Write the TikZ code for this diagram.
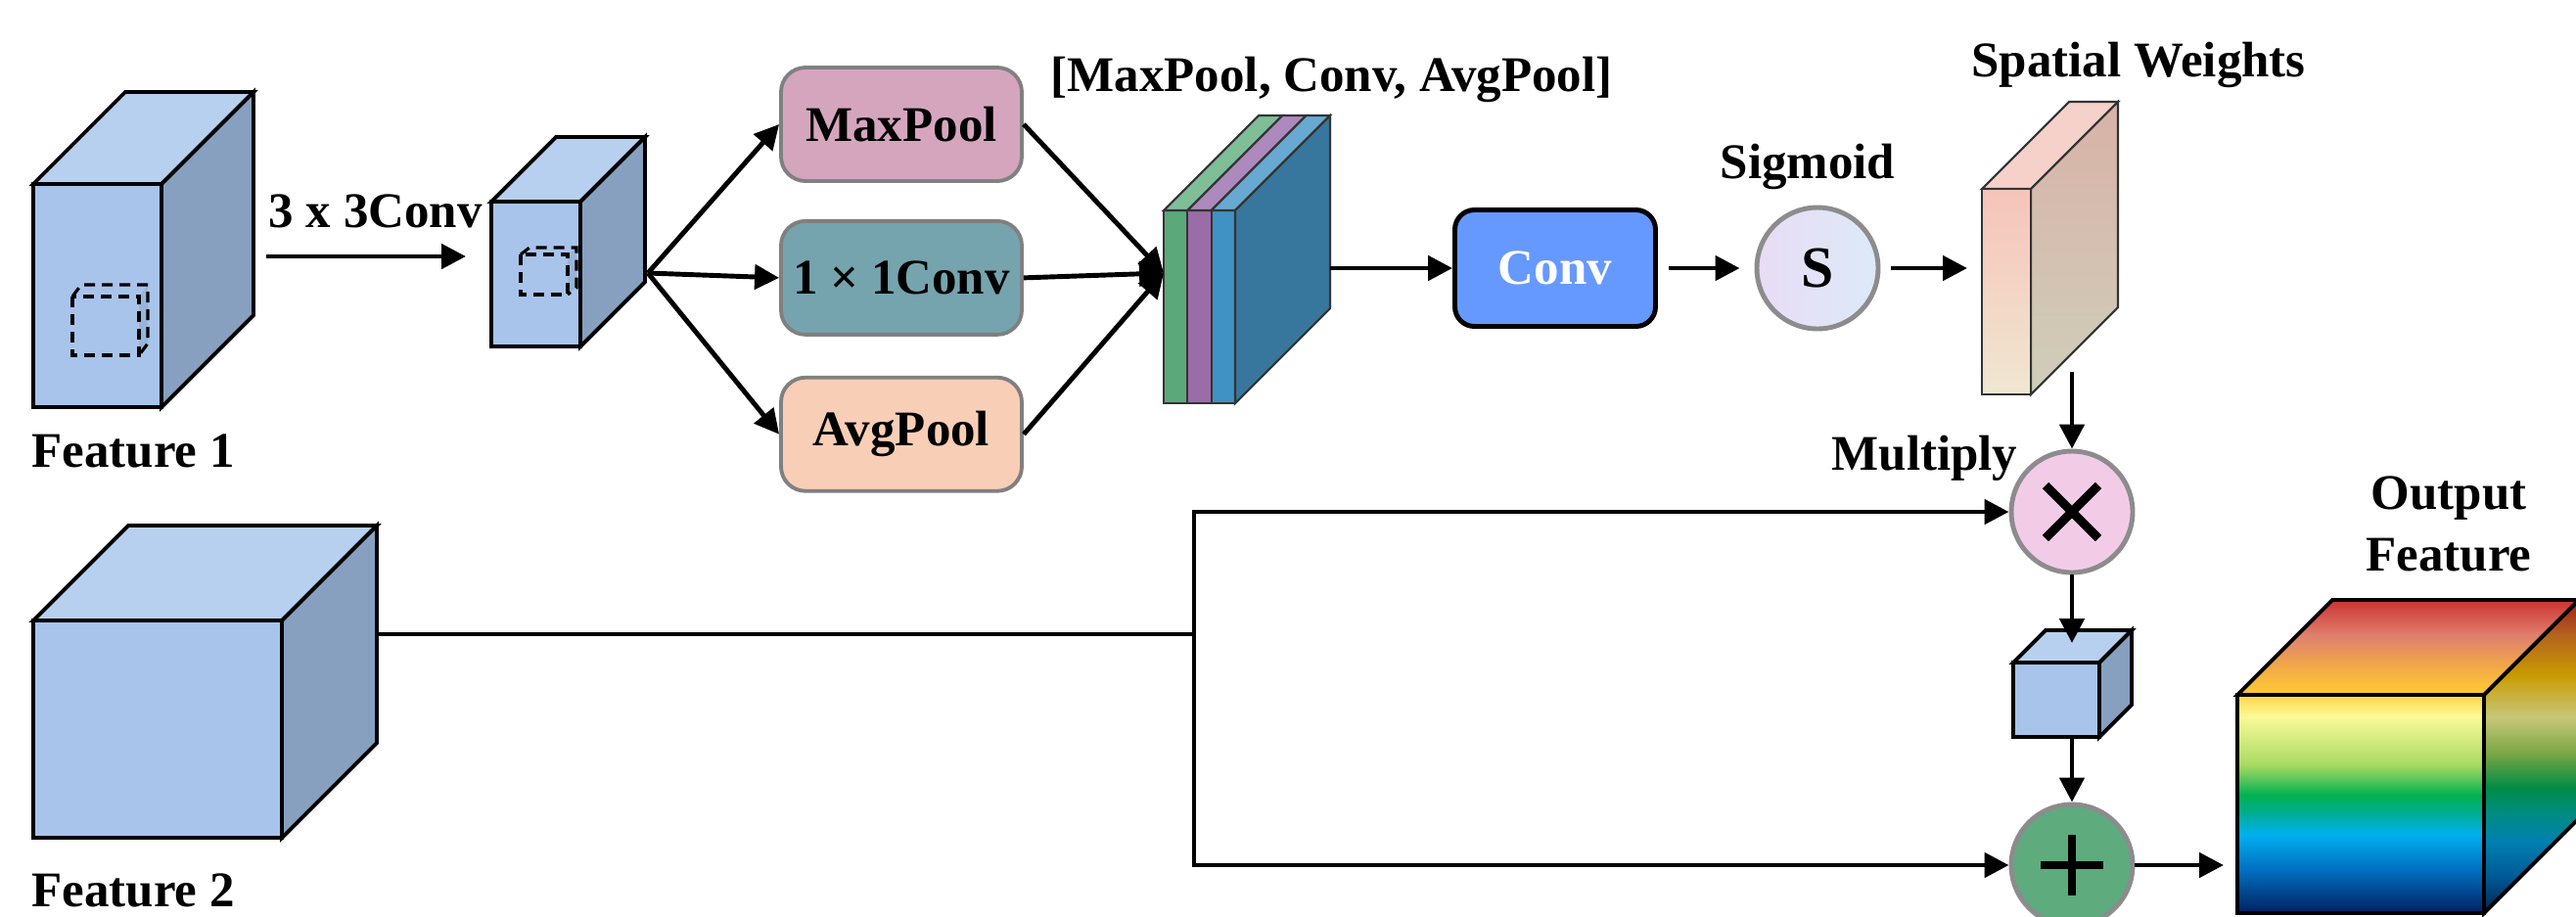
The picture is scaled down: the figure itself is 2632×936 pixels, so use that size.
\documentclass[tikz,border=0pt]{standalone}
\usepackage{fontspec}
\setmainfont{Liberation Serif}
\usetikzlibrary{arrows.meta,positioning}

\definecolor{cubefront}{HTML}{A8C4EB}
\definecolor{cubetop}{HTML}{B7D0EF}
\definecolor{cubeside}{HTML}{87A0C0}
\definecolor{maxpc}{HTML}{D5A5BE}
\definecolor{onec}{HTML}{75A4AE}
\definecolor{avgc}{HTML}{F9CEB6}
\definecolor{boxline}{HTML}{808080}
\definecolor{grnfront}{HTML}{5BA97A}
\definecolor{grntop}{HTML}{7FBE97}
\definecolor{purfront}{HTML}{9A6DA9}
\definecolor{purtop}{HTML}{AD8ABD}
\definecolor{blufront}{HTML}{4192C4}
\definecolor{blutop}{HTML}{68A9D1}
\definecolor{stkside}{HTML}{37779E}
\definecolor{convc}{HTML}{6699FF}
\definecolor{sigleft}{HTML}{E8DCF5}
\definecolor{sigright}{HTML}{DCEAF8}
\definecolor{ringgray}{HTML}{8C8C8C}
\definecolor{mulc}{HTML}{F2CCE6}
\definecolor{addc}{HTML}{5EAB7E}
\definecolor{swfronttop}{HTML}{F6C4BA}
\definecolor{swfrontbot}{HTML}{EFE7D1}
\definecolor{swsidetop}{HTML}{D8B2A7}
\definecolor{swsidebot}{HTML}{CFCEBA}
\definecolor{swtop}{HTML}{F6D1C9}
\definecolor{plateline}{HTML}{333333}
% rainbow block
\definecolor{rbgold}{HTML}{FFD54A}
\definecolor{rbpale}{HTML}{FAFA98}
\definecolor{rblime}{HTML}{A8DA62}
\definecolor{rbgreen}{HTML}{00B050}
\definecolor{rbteal}{HTML}{00AE9A}
\definecolor{rbcyan}{HTML}{00B0F0}
\definecolor{rbblue}{HTML}{0070C0}
\definecolor{rbnavy}{HTML}{002060}
\definecolor{rbred}{HTML}{CC3333}
\definecolor{rbsalmon}{HTML}{E0806E}
\definecolor{rborange}{HTML}{F0A848}
\definecolor{rbtopfront}{HTML}{FFCC33}
\definecolor{rsdred}{HTML}{9E1F1F}
\definecolor{rsbrown}{HTML}{B5651D}
\definecolor{rsgold}{HTML}{C89B00}
\definecolor{rskhaki}{HTML}{C8C87A}
\definecolor{rsolive}{HTML}{7AA645}
\definecolor{rsgreen}{HTML}{008C45}
\definecolor{rsteal}{HTML}{008C80}
\definecolor{rsblue}{HTML}{0080B0}
\definecolor{rsdblue}{HTML}{005A98}
\definecolor{rsnavy}{HTML}{002050}

\pgfdeclareverticalshading{rainfront}{100bp}{color(0bp)=(rbnavy); color(25bp)=(rbnavy);
  color(35bp)=(rbblue); color(43bp)=(rbcyan); color(47.5bp)=(rbteal); color(52bp)=(rbgreen);
  color(59bp)=(rblime); color(70bp)=(rbpale); color(75bp)=(rbgold); color(100bp)=(rbgold)}
\pgfdeclareverticalshading{rainside}{100bp}{color(0bp)=(rsnavy); color(25bp)=(rsnavy);
  color(31bp)=(rsdblue); color(36.5bp)=(rsblue); color(41bp)=(rsteal); color(45bp)=(rsgreen);
  color(50.5bp)=(rsolive); color(56.3bp)=(rskhaki); color(63bp)=(rsgold); color(69.2bp)=(rsbrown);
  color(75bp)=(rsdred); color(100bp)=(rsdred)}
\pgfdeclareverticalshading{raintop}{100bp}{color(0bp)=(rbtopfront); color(25bp)=(rbtopfront);
  color(40.5bp)=(rborange); color(56bp)=(rbsalmon); color(75bp)=(rbred); color(100bp)=(rbred)}

\tikzset{
  lbl/.style={font=\fontsize{14.5}{18}\selectfont\bfseries, inner sep=0pt},
  arr/.style={line width=1.4pt, -{Triangle[length=2.5mm,width=2.5mm]}},
  gap/.style={shorten <=1.1mm, shorten >=1.5mm},
  wire/.style={line width=1.4pt},
  cubeline/.style={draw=black, line width=1.1pt},
  cubeface/.style={cubeline, inner sep=0pt, outer sep=0pt},
  kernel/.style={line width=0.9pt, dash pattern=on 1.1mm off 0.7mm},
  plate/.style={draw=plateline, line width=0.6pt},
  pool/.style={draw=boxline, line width=1.1pt, rounded corners=2.5mm, minimum width=24.6mm,
    minimum height=11.6mm, inner sep=0pt, font=\fontsize{14.5}{17}\selectfont\bfseries},
  convbox/.style={draw=black, line width=1.4pt, rounded corners=2mm, fill=convc, text=white,
    minimum width=20.5mm, minimum height=11.9mm, font=\fontsize{14.5}{17}\selectfont\bfseries},
  opcirc/.style={circle, draw=ringgray, line width=1.4pt, minimum size=12.4mm, inner sep=0pt},
}

% name, x, y of front top-left, width, height, depth
\newcommand{\featcube}[6]{%
  \node[cubeface, fill=cubefront, anchor=north west,
        minimum width=#4*0.1mm, minimum height=#5*0.1mm] (#1) at (#2,#3) {};
  \filldraw[cubeline, fill=cubetop] (#1.north west) -- ++(#6,-#6) -- ++(#4,0) -- (#1.north east) -- cycle;
  \filldraw[cubeline, fill=cubeside] (#1.north east) -- ++(#6,-#6) -- ++(0,#5) -- (#1.south east) -- cycle;
}
% x, y, width, height, shift right, shift up
\newcommand{\dashcube}[6]{%
  \fill[cubeside!45!cubefront] (#1+#3,#2) -- ++(#5,-#6) -- ++(0,#4) -- ++(-#5,#6) -- cycle;
  \draw[kernel] (#1,#2) rectangle ++(#3,#4);
  \draw[kernel] (#1,#2) -- ++(#5,-#6) -- ++(#3,0) -- ++(0,#4) -- ++(-#5,#6);
}

\begin{document}
\begin{tikzpicture}[x=0.1mm, y=-0.1mm]
\useasboundingbox (0,0) rectangle (2632,936);
\clip (0,0) rectangle (2632,936);

% Feature 1
\featcube{f1}{34}{188}{131}{228}{94}
\dashcube{74}{303}{68}{60}{9}{12}
\node[lbl, anchor=base west] (f1lbl) at (32,477) {Feature 1};

\coordinate (f1out) at (272,262);
\coordinate (sc1in) at (476,262);
\draw[arr] (f1out) -- (sc1in);
\node[lbl, anchor=base west] (k3lbl) at (274,232) {3 x 3Conv};

\featcube{sc1}{502}{206}{91}{148}{66}
\dashcube{532}{260}{48}{41}{9}{7}

% branches
\node[pool, fill=maxpc] (maxp) at (921,127) {MaxPool};
\node[pool, fill=onec, below=3.7mm of maxp] (onebyone) {1 × 1Conv};
\node[pool, fill=avgc, below=4mm of onebyone] (avgp) {AvgPool};
\coordinate (sc1out) at (662,279);
\foreach \b in {maxp,onebyone,avgp}
  \draw[arr] (sc1out) -- (\b.west);

% concatenation
\foreach \f/\t [count=\i from 0] in {grnfront/grntop,purfront/purtop,blufront/blutop} {
  \filldraw[fill=\f, plate] ({1189+24.3*\i},215) rectangle ++(24.3,197);
  \filldraw[fill=\t, plate] ({1189+24.3*\i},215) -- ++(97,-97) -- ++(24.3,0) -- ++(-97,97) -- cycle;
}
\filldraw[fill=stkside, plate] (1262,215) -- ++(97,-97) -- ++(0,197) -- ++(-97,97) -- cycle;
\coordinate (stkin) at (1189,279);
\coordinate (stkout) at (1359,274);
\foreach \b in {maxp,onebyone,avgp}
  \draw[arr] (\b.east) -- (stkin);
\node[lbl, anchor=base west] (catlbl) at (1073,93) {[MaxPool, Conv, AvgPool]};

% conv + sigmoid
\node[convbox] (cv) at (1589,274) {Conv};
\node[opcirc, left color=sigleft, right color=sigright,
      font=\fontsize{17}{20}\selectfont\bfseries] (sig) at (1857,274) {S};
\node[lbl, anchor=base] (siglbl) at (1847,182) {Sigmoid};
\draw[arr] (stkout) -- (cv.west);
\draw[arr, gap] (cv.east) -- (sig.west);

% spatial weights
\filldraw[fill=swtop, plate] (2025,193) -- ++(89,-89) -- ++(50,0) -- ++(-89,89) -- cycle;
\shadedraw[top color=swsidetop, bottom color=swsidebot, plate]
  (2075,193) -- ++(89,-89) -- ++(0,210) -- ++(-89,89) -- cycle;
\node[anchor=north west, minimum width=5mm, minimum height=21mm, inner sep=0pt, outer sep=0pt,
      top color=swfronttop, bottom color=swfrontbot, plate] (swf) at (2025,193) {};
\draw[arr, gap] (sig.east) -- (swf.west |- sig.east);
\node[lbl, anchor=base] (swlbl) at (2185,78) {Spatial Weights};

% multiply
\node[opcirc, fill=mulc] (mul) at (2117,523) {};
\draw[line width=0.9mm] ([shift={(-27,-27)}]mul.center) -- ([shift={(27,27)}]mul.center)
  ([shift={(-27,27)}]mul.center) -- ([shift={(27,-27)}]mul.center);
\node[lbl, anchor=base east] (mullbl) at (2062,480) {Multiply};
\coordinate (swout) at (2117,380);
\draw[arr] (swout) -- (mul.north);

\featcube{sc2}{2057}{677}{88}{76}{33}
\draw[arr, shorten >=2mm] (mul.south) -- (sc2.north -| mul.south);

% add
\node[opcirc, fill=addc] (add) at (2117,884) {};
\draw[line width=0.8mm] ([xshift=-3.2mm]add.center) -- ([xshift=3.2mm]add.center)
  ([yshift=-3.1mm]add.center) -- ([yshift=3.1mm]add.center);
\draw[arr] (sc2.south -| add.north) -- (add.north);

% Feature 2
\featcube{f2}{34}{634}{254}{222}{97}
\node[lbl, anchor=base west] (f2lbl) at (32,926) {Feature 2};
\coordinate (f2out) at (386,648);
\coordinate (split) at (1220,648);
\draw[wire] (f2out) -- (split);
\draw[arr] (split) |- (mul.west);
\draw[arr] (split) |- (add.west);

% output
\shadedraw[shading=raintop, cubeline] (2286,710) -- ++(97,-97) -- ++(252,0) -- ++(-97,97) -- cycle;
\shadedraw[shading=rainside, cubeline] (2538,710) -- ++(97,-97) -- ++(0,223) -- ++(-97,97) -- cycle;
\node[shade, shading=rainfront, cubeface, anchor=north west,
      minimum width=25.2mm, minimum height=22.3mm] (outf) at (2286,710) {};
\draw[arr, shorten >=1.4mm] (add.east) -- (outf.west |- add.east);
\node[lbl, anchor=north, align=center] (outlbl) at (2502,486) {Output\\Feature};
\end{tikzpicture}
\end{document}
